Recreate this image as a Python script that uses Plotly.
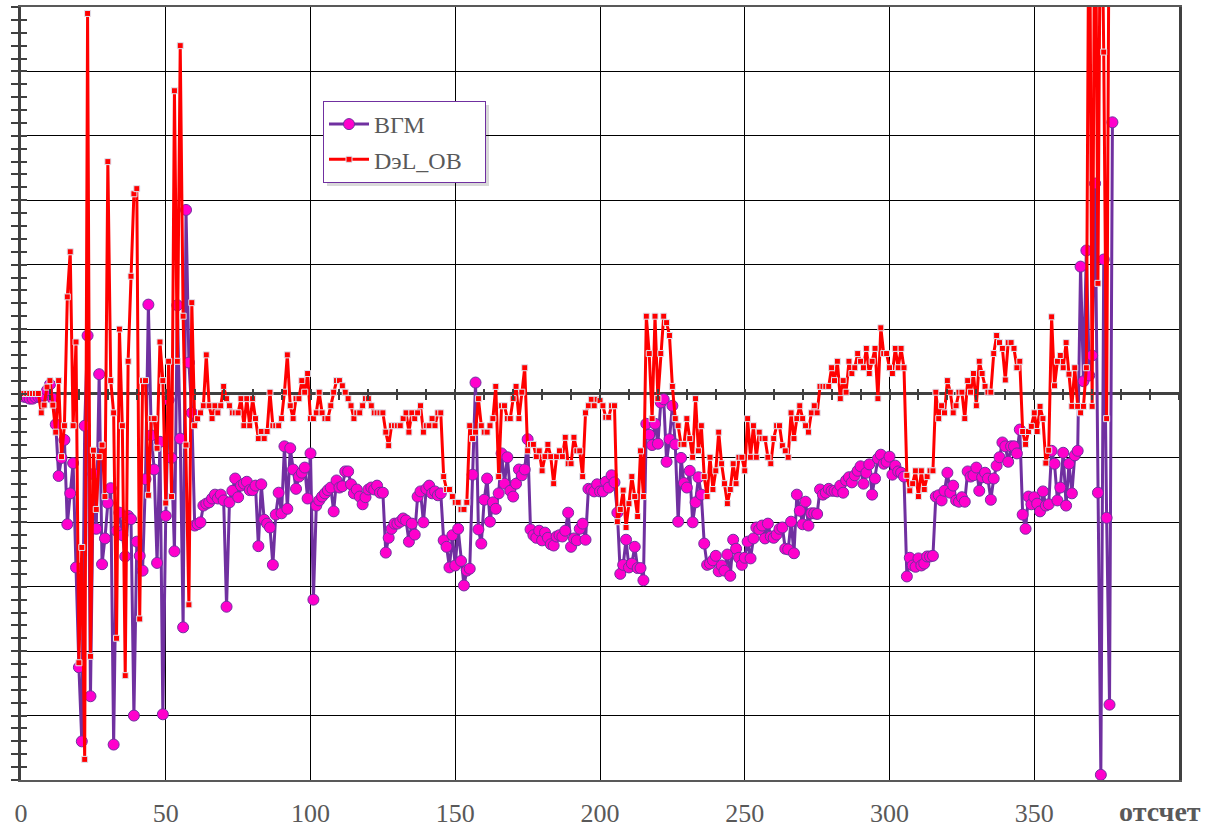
import plotly.graph_objects as go

# ---- data (sample index = отсчет) ----
vgm = [
    -0.05, -0.06, -0.08, -0.08, -0.06, -0.05, -0.06, -0.03, 0.05, 0.14,
    -0.08, -0.48, -1.28, -1.0, -0.72, -2.03, -1.55, -1.08, -2.7, -4.25,
    -5.4, -0.5, 0.9, -4.7, -1.25, -2.1, 0.3, -2.65, -2.25, -1.7,
    -1.47, -5.45, -2.13, -1.85, -2.2, -2.53, -1.9, -1.95, -5.0, -2.3,
    -2.52, -2.75, -1.33, 1.38, -0.65, -1.18, -2.63, -0.75, -4.98, -1.9,
    -0.1, -1.0, -2.45, 1.37, -0.7, -3.63, 2.85, 0.48, -0.3, -2.05,
    -2.03, -2.0, -1.74, -1.71, -1.69, -1.63, -1.57, -1.63, -1.57, -1.66,
    -3.31, -1.69, -1.51, -1.32, -1.61, -1.43, -1.4, -1.37, -1.5, -1.5,
    -1.43, -2.37, -1.41, -1.96, -2.02, -2.08, -2.66, -1.88, -1.54, -1.86,
    -0.82, -1.79, -0.85, -1.18, -1.48, -1.29, -1.23, -1.15, -1.63, -0.93,
    -3.2, -1.74, -1.66, -1.6, -1.55, -1.5, -1.46, -1.83, -1.35, -1.46,
    -1.44, -1.21, -1.21, -1.41, -1.55, -1.49, -1.6, -1.72, -1.61, -1.49,
    -1.46, -1.49, -1.43, -1.54, -1.54, -2.47, -2.24, -2.1, -2.02, -2.02,
    -1.99, -1.94, -1.97, -2.3, -2.02, -2.19, -1.6, -1.52, -2.0, -1.48,
    -1.43, -1.55, -1.52, -1.58, -1.55, -2.28, -2.38, -2.7, -2.2, -2.67,
    -2.1, -2.6, -2.98, -2.75, -2.72, -1.26, 0.17, -2.11, -2.33, -1.65,
    -1.32, -1.99, -1.69, -1.79, -1.55, -0.93, -1.4, -0.99, -1.51, -1.6,
    -1.4, -1.18, -1.27, -1.18, -0.71, -2.11, -2.2, -2.24, -2.13, -2.28,
    -2.16, -2.24, -2.34, -2.36, -2.22, -2.2, -2.22, -2.13, -1.85, -2.38,
    -2.25, -2.28, -2.1, -2.02, -2.27, -1.48, -1.49, -1.52, -1.41, -1.52,
    -1.52, -1.37, -1.46, -1.27, -1.38, -1.85, -2.8, -2.66, -2.27, -2.7,
    -2.64, -2.38, -2.71, -2.71, -2.9, -0.47, -0.64, -0.8, -0.47, -0.78,
    -0.14, -0.09, -1.06, -0.71, -0.19, -0.79, -1.99, -1.0, -1.39, -1.46,
    -1.2, -2.0, -1.69, -1.3, -1.57, -2.33, -2.66, -2.64, -2.59, -2.52,
    -2.76, -2.67, -2.75, -2.5, -2.83, -2.27, -2.41, -2.55, -2.66, -2.55,
    -2.3, -2.56, -2.25, -2.08, -2.11, -2.05, -2.25, -2.02, -2.22, -2.24,
    -2.19, -2.1, -2.08, -2.41, -2.42, -1.99, -2.48, -1.57, -1.82, -2.03,
    -1.68, -2.05, -1.86, -1.86, -1.87, -1.49, -1.57, -1.54, -1.48, -1.51,
    -1.51, -1.52, -1.43, -1.54, -1.35, -1.3, -1.38, -1.27, -1.2, -1.13,
    -1.4, -1.23, -1.1, -1.57, -1.32, -1.01, -0.95, -1.09, -1.06, -0.98,
    -1.26, -1.12, -1.21, -1.23, -1.29, -2.84, -2.55, -2.67, -2.69, -2.56,
    -2.67, -2.64, -2.53, -2.53, -2.52, -1.6, -1.58, -1.66, -1.51, -1.23,
    -1.54, -1.43, -1.66, -1.68, -1.61, -1.68, -1.21, -1.29, -1.27, -1.15,
    -1.51, -1.3, -1.23, -1.32, -1.65, -1.32, -1.12, -0.99, -0.76, -0.82,
    -1.06, -0.82, -0.82, -0.93, -0.56, -1.88, -2.1, -1.6, -1.72, -1.61,
    -1.71, -1.83, -1.52, -1.74, -1.72, -0.89, -1.09, -1.66, -1.46, -0.92,
    -1.74, -1.09, -1.55, -0.96, -0.89, 1.97, 0.19, 2.22, 0.28, 0.59,
    3.26, -1.54, -5.92, 2.08, -1.93, -4.83, 4.21,
]

del_ob = [
    0, 0, 0, 0, 0, 0, -0.3, -0.18, 0.1, 0.2,
    -0.18, -0.6, 0.2, -0.98, -0.5, 1.5, 2.2, -0.5, 0.8, -4.18,
    -2.39, -5.68, 5.9, -4.08, -0.88, -1.8, -0.98, -0.8, -1.6, 3.6,
    0.2, -0.3, -3.8, 1.0, -0.5, -4.38, 0.5, 1.82, 3.1, 3.18,
    -3.5, 0.2, 0.2, -1.58, -0.39, -0.39, -0.85, 0.8, 0.2, -1.7,
    0.5, -1.6, 4.7, 0.5, 5.4, 1.2, -0.8, -3.28, 1.41, -0.5,
    -0.39, -0.3, -0.19, 0.6, -0.19, -0.39, -0.19, -0.3, -0.19, 0.11,
    -0.08, -0.19, -0.3, -0.3, -0.3, -0.08, -0.5, -0.08, -0.5, -0.08,
    -0.39, -0.7, -0.59, -0.7, -0.59, 0.02, -0.5, -0.5, -0.5, -0.39,
    0.02, 0.6, -0.19, -0.39, -0.08, -0.08, 0.2, 0.02, 0.31, -0.39,
    -0.39, -0.3, 0.02, -0.3, -0.39, -0.39, -0.19, 0.02, 0.2, 0.2,
    0.12, 0.02, -0.08, -0.19, -0.39, -0.3, -0.3, -0.19, -0.08, -0.08,
    -0.19, -0.3, -0.3, -0.3, -0.3, -0.6, -0.81, -0.5, -0.5, -0.5,
    -0.5, -0.39, -0.3, -0.6, -0.3, -0.39, -0.3, -0.19, -0.6, -0.5,
    -0.5, -0.39, -0.5, -0.3, -0.3, -1.29, -1.49, -1.49, -1.6, -1.69,
    -1.69, -1.8, -1.8, -1.69, -0.5, -0.7, -0.6, -0.08, -0.5, -0.6,
    -0.6, -0.5, -0.39, 0.11, -1.29, -0.19, -0.19, -0.39, -0.39, -0.08,
    0.11, -0.39, 0.02, 0.4, -0.89, -0.79, -0.79, -0.98, -0.89, -1.2,
    -0.98, -0.79, -0.98, -1.4, -0.98, -0.89, -0.98, -0.68, -1.09, -1.09,
    -0.68, -0.89, -0.89, -1.29, -0.3, -0.19, -0.09, -0.19, -0.09, -0.11,
    -0.19, -0.37, -0.37, -0.19, -0.19, -1.99, -1.8, -1.5, -2.08, -1.71,
    -1.29, -1.6, -1.91, -0.89, -1.6, 1.2, 0.62, -0.39, 1.2, -0.08,
    0.62, 1.2, 1.1, 0.9, 0.11, -0.39, -0.5, -0.79, -0.79, -0.39,
    -0.7, -0.99, -0.08, -0.89, -0.5, -1.29, -1.6, -0.99, -1.49, -1.2,
    -0.6, -1.09, -1.4, -1.71, -1.49, -1.09, -1.4, -0.99, -0.99, -1.2,
    -0.39, -0.99, -0.5, -0.99, -0.6, -0.7, -0.7, -0.99, -1.09, -0.7,
    -0.5, -0.5, -0.81, -0.89, -0.99, -0.3, -0.7, -0.39, -0.19, -0.39,
    -0.5, -0.6, -0.3, -0.19, -0.3, 0.11, 0.11, 0.11, 0.11, 0.4,
    0.2, 0.5, -0.08, 0.2, 0.02, 0.5, 0.31, 0.4, 0.62, 0.5,
    0.4, 0.7, 0.31, 0.5, 0.7, -0.08, 1.02, 0.62, 0.62, 0.4,
    0.31, 0.7, 0.4, 0.7, 0.4, -1.27, -1.51, -1.4, -1.2, -1.6,
    -1.2, -1.49, -1.29, -1.2, -1.2, 0.02, -0.39, -0.19, -0.3, 0.2,
    0.02, -0.3, -0.19, 0.02, 0.02, -0.39, 0.2, 0.02, 0.31, -0.19,
    0.5, 0.31, 0.11, 0.02, 0.02, 0.62, 0.9, 0.79, 0.7, 0.21,
    0.79, 0.79, 0.7, 0.4, 0.5, -0.59, -0.79, -0.59, -0.51, -0.3,
    -0.59, -0.2, -0.39, -1.08, -0.88, 1.19, 0.12, 0.5, 0.59, 0.4,
    0.79, 0.3, -0.2, 0.4, -0.2, -0.3, -0.2, 0.4, 9.0, -0.2,
    9.0, 1.71, 9.0, 5.3, -0.39, 9.0,
]

x_vgm = list(range(1, len(vgm) + 1))
x_del = list(range(1, len(del_ob) + 1))

x_tickvals = [0, 50, 100, 150, 200, 250, 300, 350]
x_ticktext = ["0", "50", "100", "150", "200", "250", "300", "350"]

SERIF = "Liberation Serif, Times New Roman, serif"
AX = "#404040"
NBSP = "\u00a0"

# plot-area pixel geometry (for paper-coordinate conversion)
L, R, T, B = 21, 1179, 7, 780
def px(xp):
    return (xp - L) / (R - L)
def py(yp):
    return (B - yp) / (B - T)

fig = go.Figure()
fig.add_trace(go.Scatter(
    x=x_vgm, y=vgm, name="ВГМ", mode="lines+markers", legendgroup="a",
    line=dict(color="#7030A0", width=3),
    marker=dict(symbol="circle", size=11, color="#FF00CC",
                line=dict(color="#7030A0", width=1)),
))
fig.add_trace(go.Scatter(
    x=x_del, y=del_ob, name="DэL_OB" + NBSP * 3, mode="lines+markers",
    legendgroup="b",
    line=dict(color="#FF0000", width=3),
    marker=dict(symbol="square", size=6, color="#FF0000",
                line=dict(color="#DCE6F2", width=1)),
))
# helper (empty) traces so the overlay tick axes are drawn
fig.add_trace(go.Scatter(x=[None], y=[None], xaxis="x2", yaxis="y2",
                         showlegend=False, hoverinfo="skip"))
fig.add_trace(go.Scatter(x=[None], y=[None], xaxis="x3", yaxis="y2",
                         showlegend=False, hoverinfo="skip"))

fig.update_layout(
    width=1217, height=831, autosize=False,
    paper_bgcolor="white", plot_bgcolor="white",
    margin=dict(l=L, r=1217 - R, t=T, b=831 - B, pad=0, autoexpand=False),
    showlegend=True,
    legend=dict(
        x=px(323), y=py(101), xanchor="left", yanchor="top",
        bgcolor="white", bordercolor="#7030A0", borderwidth=1,
        font=dict(family=SERIF, size=24, color="#595959"),
        tracegroupgap=1, itemwidth=40,
    ),
    xaxis=dict(
        range=[0, 400], tickvals=x_tickvals, ticktext=x_ticktext,
        showgrid=True, gridcolor="#000000", gridwidth=1.3,
        showline=True, linecolor="#595959", linewidth=2, mirror=True,
        ticks="", zeroline=False, automargin=False,
        tickfont=dict(family=SERIF, size=26, color="#595959"),
        ticklabelstandoff=9,
    ),
    yaxis=dict(
        range=[-6, 6], tick0=0, dtick=1, automargin=False,
        showgrid=True, gridcolor="#000000", gridwidth=1.3,
        showticklabels=False,
        ticks="outside", ticklen=7, tickwidth=1.5, tickcolor=AX,
        minor=dict(dtick=0.2, ticks="outside", ticklen=7, tickwidth=1.5,
                   tickcolor=AX, showgrid=False),
        zeroline=True, zerolinecolor=AX, zerolinewidth=2.5,
        showline=True, linecolor=AX, linewidth=2.5, mirror=True,
    ),
    yaxis2=dict(
        overlaying="y", anchor="x", side="left", range=[-6, 6],
        tick0=0, dtick=1, showgrid=False, showticklabels=False,
        ticks="inside", ticklen=6, tickwidth=1.5, tickcolor=AX,
        minor=dict(dtick=0.2, ticks="inside", ticklen=6, tickwidth=1.5,
                   tickcolor=AX, showgrid=False),
        zeroline=False, showline=False, automargin=False,
    ),
    xaxis2=dict(
        overlaying="x", anchor="free", position=0.5, side="bottom",
        range=[0, 400], tick0=0, dtick=10, showgrid=False,
        showticklabels=False, ticks="outside", ticklen=5, tickwidth=1.5,
        tickcolor=AX, zeroline=False, showline=False, automargin=False,
    ),
    xaxis3=dict(
        overlaying="x", anchor="free", position=0.5, side="bottom",
        range=[0, 400], tick0=0, dtick=10, showgrid=False,
        showticklabels=False, ticks="inside", ticklen=5, tickwidth=1.5,
        tickcolor=AX, zeroline=False, showline=False, automargin=False,
    ),
    annotations=[dict(
        text="<b>отсчет</b>", xref="paper", yref="paper",
        x=px(1160), y=py(811), xanchor="center", yanchor="middle",
        showarrow=False, font=dict(family=SERIF, size=28, color="#595959"),
    )],
    shapes=[dict(
        type="rect", xref="paper", yref="paper", layer="above",
        x0=px(327), x1=px(489), y0=py(105), y1=py(186),
        fillcolor="rgba(0,0,0,0.15)", line=dict(width=0),
    )],
)

fig.write_html("out.html")
